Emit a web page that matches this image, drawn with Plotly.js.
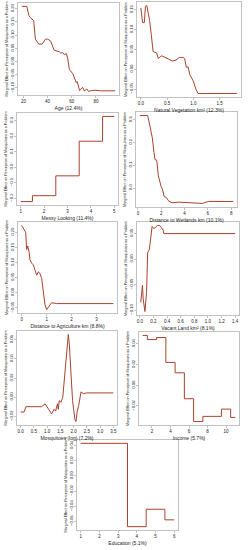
<!DOCTYPE html>
<html><head><meta charset="utf-8">
<script src="https://cdn.plot.ly/plotly-3.0.1.min.js"></script>
<style>html,body{margin:0;padding:0;background:#fff}#c{width:248px;height:550px}</style>
</head><body><div id="c"></div>
<script>
// ---- data ----
const ageX = [18.6,22.8,24.5,25.6,28.5,29.9,32.7,35.5,38.3,40,42.5,45.4,49.6,51,52.5,53.8,55.5,56.6,58,60,61,63.7,64.5,66.5,69,70.5,72.5,74,76,80,84,96];
const ageY = [0.209,0.209,0.175,0.167,0.155,0.085,0.066,0.066,0.085,0.085,0.078,0.043,0.037,0.032,0.034,0.026,0.030,0.013,-0.030,-0.040,-0.047,-0.080,-0.076,-0.110,-0.098,-0.112,-0.104,-0.114,-0.110,-0.109,-0.111,-0.111];

const vegX = [0,0.033,0.067,0.087,0.113,0.167,0.2,0.233,0.267,0.3,0.333,0.367,0.4,0.5,0.6,0.667,0.733,0.8,0.833,0.867,0.9,0.933,1.0,1.047,1.087,1.167,1.833];
const vegY = [0.155,0.118,0.118,0.159,0.161,0.123,0.086,0.045,0.043,0.041,0.027,0.032,0.034,0.027,0.021,0.023,0.030,0.030,0.027,0.005,0.006,-0.014,-0.030,-0.050,-0.061,-0.061,-0.061];

const messyX = [1,1.5,2.5,3.5,4.5,5];
const messyY = [-0.222,-0.184,-0.056,0.167,0.327,0.327];

const wetX = [0.15,0.82,0.88,1.02,1.23,1.37,1.46,1.61,1.75,1.99,2.1,2.25,2.42,2.63,2.92,3.5,5.26,5.55,5.84,6.07,8.18];
const wetY = [0.319,0.319,0.308,0.268,0.221,0.157,0.125,0.122,0.054,0.006,-0.005,-0.038,-0.041,-0.057,-0.065,-0.062,-0.065,-0.068,-0.062,-0.059,-0.059];

const agrX = [0,0.093,0.16,0.2,0.24,0.293,0.333,0.4,0.467,0.533,0.6,0.667,0.733,0.8,0.867,0.933,1.0,1.093,1.2,1.4,3.67];
const agrY = [0.223,0.211,0.2,0.143,0.155,0.1375,0.109,0.098,0.092,0.075,0.058,0.069,0.064,0.047,-0.005,-0.039,-0.056,-0.044,-0.033,-0.036,-0.036];

const vacX = [0.015,0.04,0.05,0.076,0.1,0.116,0.141,0.166,0.181,0.206,0.232,0.257,0.292,0.317,0.342,0.352,1.4];
const vacY = [-0.085,-0.051,-0.078,-0.103,-0.065,0.012,0.019,0.053,0.064,0.060,0.062,0.066,0.066,0.062,0.057,0.050,0.050];

const mosX = [0,0.126,0.2,0.79,0.92,1.08,1.17,1.26,1.32,1.39,1.42,1.46,1.52,1.59,1.68,1.8,1.84,1.9,1.96,2.05,2.09,2.14,2.19,2.28,2.37,2.49,3.5];
const mosY = [-0.0156,-0.0156,-0.010,-0.010,-0.007,-0.0145,-0.0175,-0.0127,-0.0145,-0.007,-0.0127,-0.0036,-0.0055,0.0,0.0255,0.0655,0.0545,0.018,-0.0036,-0.0236,-0.0255,-0.0145,-0.009,0.0055,0.0036,0.0044,0.0044];

const incX = [1,1.5,2.5,3.5,4.5,5.5,6.5,7.5,9.5,10.5,11];
const incY = [0.048,0.044,0.046,0.022,0.012,-0.013,-0.035,-0.030,-0.023,-0.031,-0.031];

const eduX = [1,3.5,4.5,5.5,6];
const eduY = [0.043,-0.067,-0.044,-0.058,-0.058];

const xTitles = ["Age (12.4%)","Natural Vegetation km² (12.3%)","Messy Looking (11.4%)","Distance to Wetlands km (10.1%)","Distance to Agriculture km (8.8%)","Vacant Land km² (8.1%)","Mosquitoes (log) (7.2%)","Income (5.7%)","Education (5.1%)"];
const yTitle = "Marginal Effect on Perception of Mosquitoes as a Problem";

// ---- layout ----
const W = 248, H = 550;
const boxes = [ // [left,right,top,bottom] px
  [18,119,3,95],[137,241,2,97],
  [17,118,113,205],[136,237,112,207],
  [18,117,222,313],[137,239,222,315],
  [17,117,331,425],[139,239,332,425],
  [77,178,440,530]
];
const series = [[ageX,ageY,'linear'],[vegX,vegY,'linear'],[messyX,messyY,'hv'],[wetX,wetY,'linear'],[agrX,agrY,'linear'],[vacX,vacY,'linear'],[mosX,mosY,'linear'],[incX,incY,'hv'],[eduX,eduY,'hv']];
const xd = [20,0.5,1,2,1,0.2,0.5,2,1];
const xf = ['d','.1f','d','d','d','.1f','.1f','d','d'];
const yd = [0.05,0.05,0.1,0.1,0.05,0.05,0.02,0.02,0.02];
const yf = ['.2f','.2f','.1f','.1f','.2f','.2f','.2f','.2f','.2f'];

const font = {family:'Liberation Sans, Arial, sans-serif', color:'#222'};
const traces = [];
const layout = {width:W,height:H,margin:{l:0,r:0,t:0,b:0},showlegend:false,
  paper_bgcolor:'#fff',plot_bgcolor:'#fff',font:font};

function pad(a){const mn=Math.min(...a),mx=Math.max(...a),d=(mx-mn)*0.04;return [mn-d,mx+d];}

series.forEach((s,i)=>{
  const k = i===0?'':String(i+1);
  traces.push({x:s[0],y:s[1],type:'scatter',mode:'lines',line:{color:'#a8432e',width:1,shape:s[2]},
    xaxis:'x'+k,yaxis:'y'+k,hoverinfo:'skip'});
  const b = boxes[i];
  layout['xaxis'+k] = {domain:[b[0]/W,b[1]/W],anchor:'y'+k,range:pad(s[0]),dtick:xd[i],tickformat:xf[i],
    showgrid:false,zeroline:false,showline:true,mirror:true,linecolor:'#999',linewidth:0.6,
    ticks:'outside',ticklen:2,tickcolor:'#999',tickwidth:0.6,tickfont:{size:4.5,color:'#222'},
    title:{text:xTitles[i],font:{size:5,color:'#222'},standoff:3},automargin:false};
  layout['yaxis'+k] = {domain:[1-b[3]/H,1-b[2]/H],anchor:'x'+k,range:pad(s[1]),dtick:yd[i],tickformat:yf[i],
    showgrid:false,zeroline:false,showline:true,mirror:true,linecolor:'#999',linewidth:0.6,
    ticks:'outside',ticklen:2,tickcolor:'#999',tickwidth:0.6,tickangle:-90,tickfont:{size:4.2,color:'#222'},
    title:{text:yTitle,font:{size:3.7,color:'#222'},standoff:1},automargin:false};
});

Plotly.newPlot('c',traces,layout,{staticPlot:true,displayModeBar:false});
</script></body></html>
